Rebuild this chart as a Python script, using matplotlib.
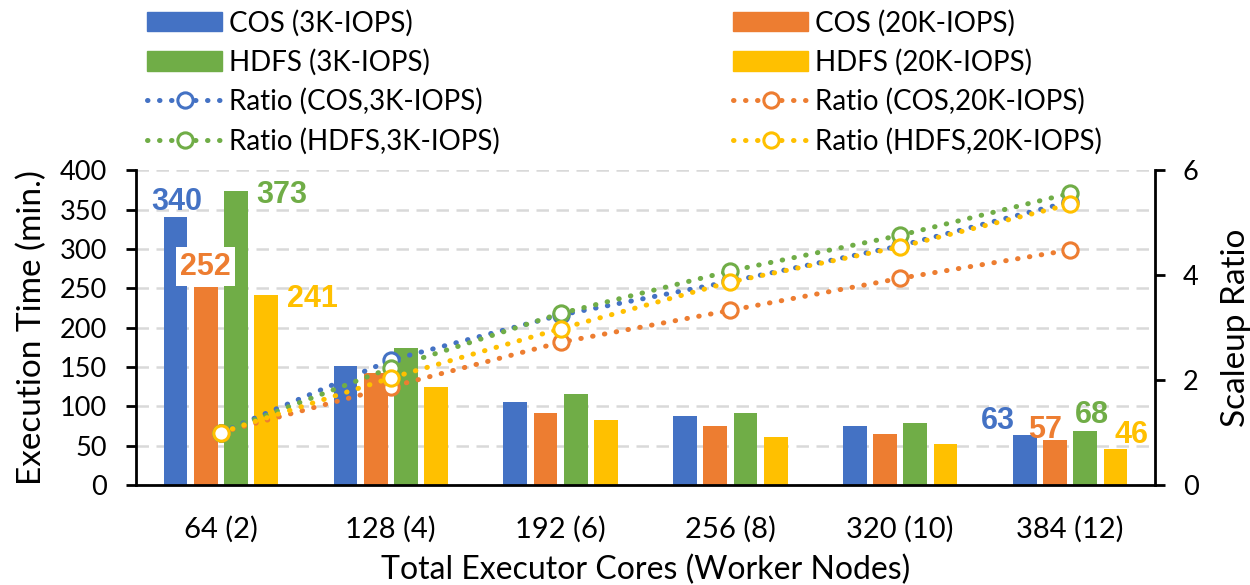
import numpy as np
import matplotlib.pyplot as plt
from matplotlib.lines import Line2D
from matplotlib.patches import Patch

plt.rcParams['font.family'] = ['Lato', 'DejaVu Sans']

# execution time (min.) per configuration
cores = ['64 (2)', '128 (4)', '192 (6)', '256 (8)', '320 (10)', '384 (12)']
cos_3k = [340, 151, 105, 88, 75, 63]
cos_20k = [252, 142, 92, 75, 65, 57]
hdfs_3k = [373, 174, 115, 92, 79, 68]
hdfs_20k = [241, 124, 83, 61, 52, 46]

# scaleup ratio relative to 64 cores
ratio_cos_3k = [1.0, 2.38, 3.24, 3.88, 4.56, 5.40]
ratio_cos_20k = [1.0, 1.87, 2.72, 3.33, 3.94, 4.48]
ratio_hdfs_3k = [1.0, 2.23, 3.27, 4.08, 4.76, 5.56]
ratio_hdfs_20k = [1.0, 2.04, 2.98, 3.87, 4.54, 5.35]

blue, orange, green, yellow = '#4472C4', '#ED7D31', '#70AD47', '#FFC000'

fig = plt.figure(figsize=(12.5, 5.85), dpi=100)
ax = fig.add_axes([0.1088, 0.171, 0.8152, 0.538])
ax2 = ax.twinx()

x = np.arange(len(cores))
w = 0.14
step = 0.178
series = [(cos_3k, blue), (cos_20k, orange), (hdfs_3k, green), (hdfs_20k, yellow)]
for i, (vals, c) in enumerate(series):
    ax.bar(x + (i - 1.5) * step, vals, width=w, color=c, zorder=2)

ax.set_xlim(-0.5, 5.5)
ax.set_ylim(0, 400)
ax.set_yticks(range(0, 401, 50))
ax.set_xticks(x)
ax.set_xticklabels(cores)
ax.tick_params(axis='x', length=0, pad=22, labelsize=21)
ax.tick_params(axis='y', length=7, width=2, labelsize=19.5, pad=14)
ax.yaxis.grid(True, linestyle=(0, (5, 3)), color='#d9d9d9', linewidth=1.8, zorder=0)
ax.set_axisbelow(True)
for s in ['top', 'right']:
    ax.spines[s].set_visible(False)
ax.spines['left'].set_linewidth(2)
ax.spines['bottom'].set_linewidth(2)
ax.set_ylabel('Execution Time (min.)', fontsize=24, labelpad=9)
ax.set_xlabel('Total Executor Cores (Worker Nodes)', fontsize=23, labelpad=9)

ratios = [(ratio_cos_3k, blue), (ratio_cos_20k, orange),
          (ratio_hdfs_3k, green), (ratio_hdfs_20k, yellow)]
for vals, c in ratios:
    ax2.plot(x, vals, linestyle=(0, (0.1, 2.3)), dash_capstyle='round',
             linewidth=3.6, color=c, marker='o', markersize=11,
             markerfacecolor='white', markeredgecolor=c, markeredgewidth=2.2)
ax2.set_ylim(0, 6)
ax2.set_yticks([0, 2, 4, 6])
ax2.tick_params(axis='y', length=7, width=2, labelsize=19.5, pad=13)
for s in ['top', 'left', 'bottom']:
    ax2.spines[s].set_visible(False)
ax2.spines['right'].set_linewidth(2)
ax2.set_ylabel('Scaleup Ratio', fontsize=24, labelpad=16)

# value labels on the first and last groups (offsets in pixels from bar top)
lab_font = dict(fontsize=22, fontweight='bold', family=['Liberation Sans', 'DejaVu Sans'])
first = [(cos_3k, blue, 1, 7, None), (cos_20k, orange, 0, 12, 'white'),
         (hdfs_3k, green, 46, -12, None), (hdfs_20k, yellow, 46, -12, None)]
last = [(cos_3k, blue, -27, 6, None), (cos_20k, orange, -10, 2, None),
        (hdfs_3k, green, 7, 8, None), (hdfs_20k, yellow, 16, 6, None)]
for gi, specs in [(0, first), (5, last)]:
    for i, (vals, c, dx, dy, bg) in enumerate(specs):
        bbox = dict(facecolor=bg, edgecolor='none', pad=3) if bg else None
        ax.annotate(str(vals[gi]), (x[gi] + (i - 1.5) * step, vals[gi]),
                    xytext=(dx, dy), textcoords='offset pixels', ha='center',
                    va='baseline', color=c, bbox=bbox, zorder=5, **lab_font)

def ratio_handle(c):
    return Line2D([], [], linestyle=(0, (0.1, 2.3)), dash_capstyle='round', linewidth=3.6,
                  color=c, marker='o', markersize=11, markerfacecolor='white',
                  markeredgecolor=c, markeredgewidth=2.2)

handles = [Patch(color=blue), Patch(color=green), ratio_handle(blue), ratio_handle(green),
           Patch(color=orange), Patch(color=yellow), ratio_handle(orange), ratio_handle(yellow)]
labels = ['COS (3K-IOPS)', 'HDFS (3K-IOPS)', 'Ratio (COS,3K-IOPS)', 'Ratio (HDFS,3K-IOPS)',
          'COS (20K-IOPS)', 'HDFS (20K-IOPS)', 'Ratio (COS,20K-IOPS)', 'Ratio (HDFS,20K-IOPS)']
fig.legend(handles, labels, ncol=2, loc='upper left', bbox_to_anchor=(0.1024, 1.017),
           frameon=False, fontsize=20, handlelength=2.7, handleheight=0.7,
           handletextpad=0.25, columnspacing=8.4, labelspacing=0.45, borderpad=0.2)

fig.savefig('out.png', dpi=100)
